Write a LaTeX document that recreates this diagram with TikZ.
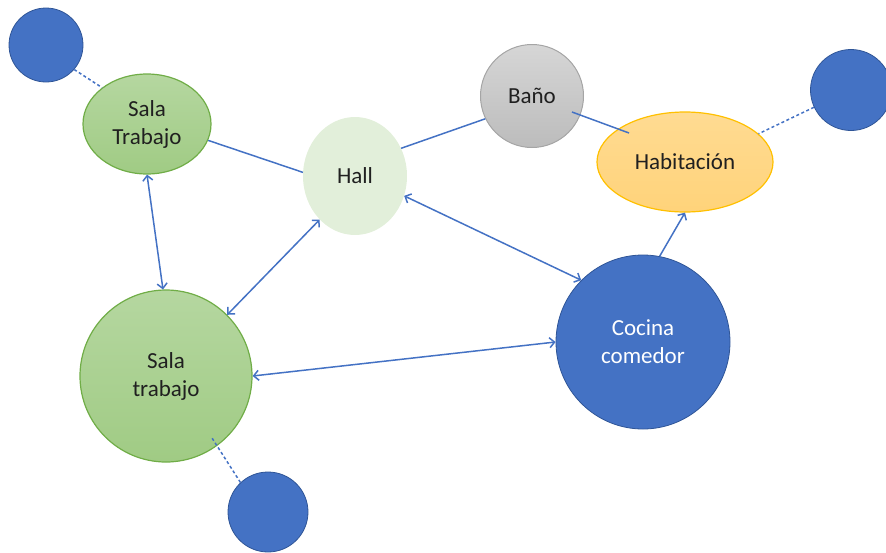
\documentclass[tikz,border=0pt]{standalone}
\usepackage{fontspec}
\setmainfont{Carlito}
\usetikzlibrary{arrows.meta,calc,shapes.geometric}
\definecolor{blueF}{HTML}{4472C4}
\definecolor{blueD}{HTML}{2F5597}
\definecolor{greenB}{HTML}{70AD47}
\definecolor{greenT}{HTML}{B5D7A0}
\definecolor{greenBt}{HTML}{A0CB84}
\definecolor{hallF}{HTML}{E2EFDA}
\definecolor{grayT}{HTML}{D6D6D6}
\definecolor{grayBt}{HTML}{BCBCBC}
\definecolor{grayB}{HTML}{A5A5A5}
\definecolor{yelT}{HTML}{FFDB92}
\definecolor{yelBt}{HTML}{FFD37A}
\definecolor{yelB}{HTML}{FFC000}
\definecolor{txt}{HTML}{202020}
\tikzset{
  lbl/.style={font=\fontsize{23}{28}\selectfont, text=txt, align=center, inner sep=0pt},
  bluedot/.style={circle, fill=blueF, draw=blueD, line width=0.8pt, inner sep=0pt},
  greenshape/.style={draw=greenB, line width=1.2pt, top color=greenT, bottom color=greenBt},
  conn/.style={draw=blueF, line width=1.5pt},
  both/.style={conn, {Straight Barb[length=5pt,width=10pt]}-{Straight Barb[length=5pt,width=10pt]}},
  one/.style={conn, -{Straight Barb[length=5pt,width=10pt]}},
  dashconn/.style={draw=blueF, line width=1.5pt, dash pattern=on 3pt off 2.5pt},
}
\begin{document}
\begin{tikzpicture}[x=1pt,y=-1pt]
\useasboundingbox (0,0) rectangle (886,552);
% blue satellite circles
\node[bluedot, minimum size=74pt] (c1) at (46,45) {};
\node[bluedot, minimum size=81pt] (c2) at (851,90) {};
\node[bluedot, minimum size=80pt] (c3) at (268,512) {};
% main nodes
\node[ellipse, greenshape, minimum width=128pt, minimum height=100pt, lbl] (st1) at (147,124) {Sala\\Trabajo};
\node[ellipse, fill=hallF, minimum width=104pt, minimum height=118pt, lbl] (hall) at (355,176) {Hall};
\node[circle, draw=grayB, line width=1pt, top color=grayT, bottom color=grayBt, minimum size=103pt, lbl] (bano) at (532,96) {Baño};
\node[ellipse, draw=yelB, line width=1.2pt, top color=yelT, bottom color=yelBt, minimum width=176pt, minimum height=100pt, lbl] (hab) at (685,162) {Habitación};
\node[circle, greenshape, minimum size=172pt, lbl] (st2) at (166,376) {Sala\\trabajo};
\node[bluedot, minimum size=174pt, lbl, text=white] (coc) at (643,342) {Cocina\\comedor};
% connectors
\draw[conn] (st1.-15) -- (hall.176);
\draw[conn] (hall.31) -- (bano.206);
\coordinate (b1) at ($(bano.center)+(40,16)$);
\coordinate (h1) at ($(hab.center)+(-56,-29)$);
\draw[conn] (b1) -- (h1);
\draw[both] (st1.270) -- (st2.92);
\draw[both] (hall.231) -- (st2.45);
\draw[both] (hall.-22) -- (coc.135);
\draw[both] (st2.0) -- (coc.180);
\draw[one] (coc.79) -- (hab.270);
% dashed links
\draw[dashconn] (c1.-41) -- (st1.141);
\draw[dashconn] (c2.205) -- (hab.21);
\coordinate (s2i) at ($(st2.center)+(46,62)$);
\draw[dashconn] (c3.133) -- (s2i);
\end{tikzpicture}
\end{document}
